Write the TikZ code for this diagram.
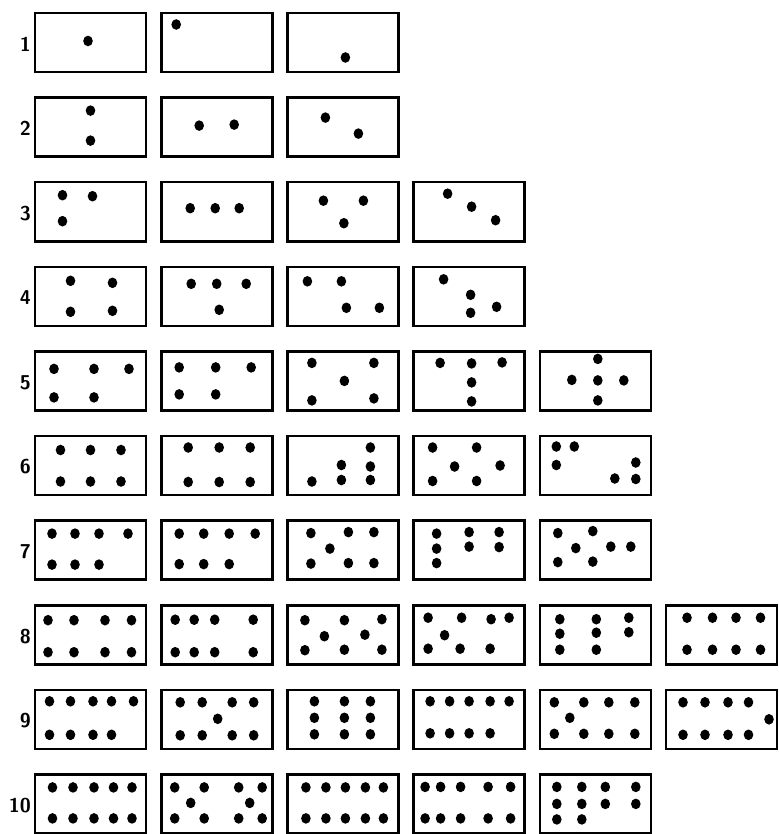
\documentclass[tikz,border=0pt]{standalone}
\usepackage{tikz}
\tikzset{
  dombox/.style={draw=black, line width=2.6pt, fill=white},
  pip/.style={fill=black},
  rowlabel/.style={font=\sffamily\bfseries\fontsize{20}{20}\selectfont, anchor=east, inner sep=0pt}
}
\newcommand\dmn[3]{%
  \begin{scope}[shift={({35+126.2*(#1-1)},{13+84.6*(#2-1)})}]
    \draw[dombox] (0,0) rectangle (111,59);
    \foreach \a/\b in {#3} { \fill[pip] (\a,\b) ellipse [x radius=4.8, y radius=5.3]; }
  \end{scope}}
\begin{document}
\begin{tikzpicture}[x=1pt,y=-1pt]
\useasboundingbox (0,0) rectangle (778,834);
\fill[white] (0,0) rectangle (778,834);
% row labels
\foreach \r in {1,...,10} { \node[rowlabel] (lab\r) at (31,{13+84.6*(\r-1)+31}) {\r}; }
% row 1
\dmn{1}{1}{53/28}
\dmn{2}{1}{15/11.5}
\dmn{3}{1}{58/44.5}
% row 2
\dmn{1}{2}{55.5/13, 55.5/43}
\dmn{2}{2}{38/28, 73/27}
\dmn{3}{2}{38/20, 71/36}
% row 3
\dmn{1}{3}{27.5/13, 57.5/14, 27.5/39}
\dmn{2}{3}{29/26, 54/26, 78/26}
\dmn{3}{3}{36/18.5, 76/18.5, 56.5/41}
\dmn{4}{3}{34/11.5, 58/24.5, 82/38}
% row 4
\dmn{1}{4}{35.5/14, 77.5/16, 35.5/45, 77.5/44}
\dmn{2}{4}{30/17, 55.5/17, 85/17, 58/43}
\dmn{3}{4}{20/14.5, 54/14.5, 59/41, 92/41}
\dmn{4}{4}{30/12.5, 57/28, 57/46, 83/40}
% row 5
\dmn{1}{5}{19/17.5, 59/17.5, 94/17.5, 19/46, 59/46}
\dmn{2}{5}{18/16, 54.5/16, 90/16, 18/43, 54.5/43}
\dmn{3}{5}{24.5/11.5, 86.5/11.5, 57/29.5, 24.5/49, 86.5/47}
\dmn{4}{5}{26.5/11.5, 58/12, 88.5/11, 58/31, 58/50}
\dmn{5}{5}{58/7.5, 32/28.5, 58/29, 84/29, 58/49}
% row 6
\dmn{1}{6}{25.5/14, 55.5/14, 86/14, 25.5/45.5, 55.5/45.5, 86/45.5}
\dmn{2}{6}{27/11.5, 58/11.5, 89/11.5, 27/46, 58/46, 89/46}
\dmn{3}{6}{83/11.5, 54/29, 83/30.5, 24.5/45.5, 54/44, 83/44}
\dmn{4}{6}{19/11.5, 63/11.5, 41/30.5, 86.5/29.5, 19/45, 63/45}
\dmn{5}{6}{16.5/10.5, 34.5/10.5, 16.5/29, 96/26.5, 75/42.5, 96/43}
% row 7
\dmn{1}{7}{17/13, 40/13, 64/13, 93/13, 17/44, 40/44, 64/44}
\dmn{2}{7}{18/13, 42.5/13, 68/13, 94/13, 18/43.5, 42.5/43.5, 68/43.5}
\dmn{3}{7}{23.5/12.5, 61/11.5, 86.5/11.5, 42.5/28, 23.5/43, 61/42.5, 86.5/42.5}
\dmn{4}{7}{23/13, 55.5/11.5, 85.5/11.5, 23/28, 55.5/26, 85.5/26.5, 23/42.5}
\dmn{5}{7}{18/12.5, 53/10.5, 36/27.5, 71/26, 91/26, 18/41.5, 53/41}
% row 8
\dmn{1}{8}{13/15, 39/15, 70/15, 96.5/15, 13/47, 39/47, 70/47, 96.5/47}
\dmn{2}{8}{14/14.5, 33/14.5, 53.5/14.5, 92/14.5, 14/47, 33/47, 53.5/47, 92/47}
\dmn{3}{8}{17.5/15, 57/15, 94.5/14, 37/31, 77.5/29.5, 17.5/45, 57/44.5, 94.5/44.5}
\dmn{4}{8}{14.5/12.5, 48/12.5, 77.5/14, 95.5/12.5, 31/30, 14.5/43.5, 46.5/43.5, 76.5/43.5}
\dmn{5}{8}{20/14, 56.5/14, 89/12.5, 20/28.5, 56.5/27.5, 89/27, 20/44.5, 56.5/44.5}
\dmn{6}{8}{21/12.5, 46.5/12.5, 70/12.5, 94.5/12.5, 21/44.5, 46.5/44.5, 70/44.5, 94.5/44.5}
% row 9
\dmn{1}{9}{14.5/11.5, 35.5/11.5, 58/11.5, 76.5/11.5, 98.5/11.5, 14.5/45, 35.5/45, 58/45, 76.5/45}
\dmn{2}{9}{19/12.5, 41/12.5, 71/12.5, 92.5/12.5, 56.5/29, 19/45.5, 41/45.5, 71/45.5, 92.5/45.5}
\dmn{3}{9}{27/11.5, 57/11.5, 83/11.5, 27/28, 57/28, 83/28, 27/44.5, 57/44.5, 83/44.5}
\dmn{4}{9}{16.5/11.5, 36/11.5, 55.5/11.5, 76.5/11.5, 95.5/11.5, 16.5/43.5, 36/43.5, 55.5/43.5, 76.5/43.5}
\dmn{5}{9}{14.5/12.5, 44/12.5, 69/12.5, 95/12.5, 30/28, 14.5/44, 44/44, 69/44, 95/44}
\dmn{6}{9}{17/12.5, 39/12.5, 62/12.5, 82.5/12.5, 103/29.5, 17/45, 39/45, 62/45, 82.5/45}
% row 10
\dmn{1}{10}{17.5/13, 38/13, 59/13, 78.5/13, 97/13, 17.5/44, 38/44, 59/44, 78.5/44, 97/44}
\dmn{2}{10}{13.5/13, 43/13, 77.5/13, 101/13, 29.5/28.5, 88.5/28.5, 13.5/44, 43/44, 77.5/44, 101/44}
\dmn{3}{10}{18.5/13, 38.5/13, 58/13, 78/13, 96/13, 18.5/44, 38.5/44, 58/44, 78/44, 96/44}
\dmn{4}{10}{11.5/12.5, 27/12.5, 47/12.5, 74.5/12.5, 97/12.5, 11.5/44, 27/44, 47/44, 74.5/44, 97/44}
\dmn{5}{10}{17/12.5, 42/12.5, 65.5/12.5, 96/12.5, 17/29.5, 42/29.5, 65.5/29.5, 96/29.5, 17/45, 42/45}
\end{tikzpicture}
\end{document}
